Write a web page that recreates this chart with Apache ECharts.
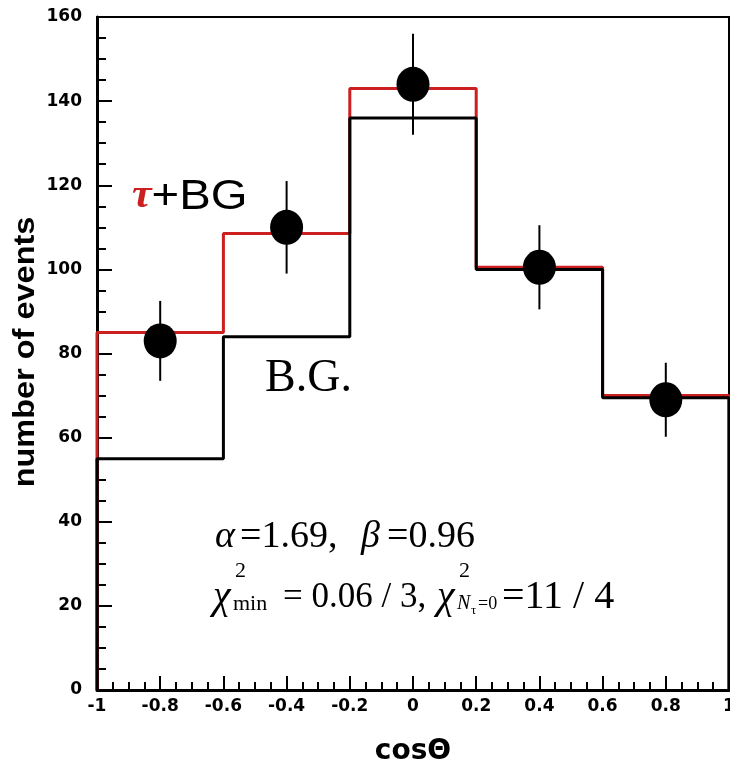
<!DOCTYPE html>
<html>
<head>
<meta charset="utf-8">
<script src="https://cdn.jsdelivr.net/npm/echarts@6/dist/echarts.min.js"></script>
<style>html,body{margin:0;padding:0;background:#fff;}#c{width:730px;height:767px;}</style>
</head>
<body>
<div id="c"></div>
<script>
// ---- data ----
var binEdges = [-1, -0.6, -0.2, 0.2, 0.6, 1];
var sigPlusBg = [85, 108.5, 143, 100.5, 70];   // tau + BG (red)
var bgOnly = [55, 84, 136, 100, 69.5];         // B.G. (black)
var pointX = [-0.8, -0.4, 0, 0.4, 0.8];
var pointY = [83, 110, 144, 100.5, 69];
var pointErr = [9.5, 11, 12, 10, 8.8];
var xTickLabels = ['-1', '-0.8', '-0.6', '-0.4', '-0.2', '0', '0.2', '0.4', '0.6', '0.8', '1'];
var yTickLabels = ['0', '20', '40', '60', '80', '100', '120', '140', '160'];

function histPath(edges, vals) {
  var d = [[edges[0], 0]];
  for (var i = 0; i < vals.length; i++) {
    d.push([edges[i], vals[i]]);
    d.push([edges[i + 1], vals[i]]);
  }
  d.push([edges[edges.length - 1], 0]);
  return d;
}
var points = pointX.map(function (x, i) { return [x, pointY[i], pointErr[i]]; });

var RED = '#cc1f1f';
var tickFont = { fontFamily: 'DejaVu Sans', fontWeight: 'bold', fontSize: 17, color: '#000' };
var serif = 'Liberation Serif';

var chart = echarts.init(document.getElementById('c'), null, { renderer: 'canvas' });
chart.setOption({
  animation: false,
  backgroundColor: '#fff',
  grid: { left: 97, right: 1, top: 17, bottom: 77, show: true, borderColor: '#000', borderWidth: 2, containLabel: false, outerBoundsMode: 'none' },
  xAxis: {
    type: 'value', min: -1, max: 1, interval: 0.2,
    axisLine: { show: true, onZero: false, lineStyle: { color: '#000', width: 3 } },
    axisTick: { show: true, inside: true, length: 14, lineStyle: { color: '#000', width: 2 } },
    minorTick: { show: true, splitNumber: 4, length: 8, lineStyle: { color: '#000', width: 2 } },
    splitLine: { show: false },
    axisLabel: Object.assign({ margin: 8, showMinLabel: true, showMaxLabel: true,
      formatter: function (v) { var i = Math.round((v + 1) / 0.2); return xTickLabels[i]; } }, tickFont),
    name: 'cosΘ', nameLocation: 'middle', nameGap: 48,
    nameTextStyle: { fontFamily: 'DejaVu Sans', fontWeight: 'bold', fontSize: 28, color: '#000' }
  },
  yAxis: {
    type: 'value', min: 0, max: 160, interval: 20,
    axisLine: { show: true, onZero: false, lineStyle: { color: '#000', width: 3 } },
    axisTick: { show: true, inside: true, length: 15, lineStyle: { color: '#000', width: 2 } },
    minorTick: { show: true, splitNumber: 4, length: 9, lineStyle: { color: '#000', width: 2 } },
    splitLine: { show: false },
    axisLabel: Object.assign({ margin: 15,
      formatter: function (v) { return yTickLabels[Math.round(v / 20)]; } }, tickFont)
  },
  series: [
    { type: 'line', data: histPath(binEdges, sigPlusBg), symbol: 'none', z: 2,
      lineStyle: { color: RED, width: 3 }, clip: false },
    { type: 'line', data: histPath(binEdges, bgOnly), symbol: 'none', z: 3,
      lineStyle: { color: '#000', width: 3 }, clip: false },
    { type: 'custom', z: 4, data: points,
      renderItem: function (params, api) {
        var x = api.value(0), y = api.value(1), e = api.value(2);
        var p1 = api.coord([x, y - e]), p2 = api.coord([x, y + e]);
        return { type: 'line', shape: { x1: p1[0], y1: p1[1], x2: p2[0], y2: p2[1] },
          style: { stroke: '#000', lineWidth: 2 } };
      } },
    { type: 'scatter', z: 5, data: points.map(function (p) { return [p[0], p[1]]; }),
      symbol: 'circle', symbolSize: [33, 35], itemStyle: { color: '#000', opacity: 1 } }
  ],
  graphic: [
    { type: 'text', x: 26, y: 352, rotation: Math.PI / 2, scaleX: 1.12,
      style: { text: 'number of events', fontFamily: 'Liberation Sans', fontWeight: 'bold', fontSize: 29,
        fill: '#000', align: 'center', verticalAlign: 'middle' } },
    { type: 'text', x: 132, y: 197, scaleX: 1.1,
      style: { text: '{t|τ}{b|+BG}', verticalAlign: 'middle', align: 'left',
        rich: { t: { fontFamily: serif, fontStyle: 'italic', fontWeight: 'bold', fontSize: 40, fill: RED },
                b: { fontFamily: 'Liberation Sans', fontSize: 43, fill: '#000' } } } },
    { type: 'text', x: 265, y: 379,
      style: { text: 'B.G.', fontFamily: serif, fontSize: 46, fill: '#000', align: 'left', verticalAlign: 'middle' } },
    // line 1
    { type: 'text', x: 215, y: 537, style: { text: 'α', fontFamily: serif, fontStyle: 'italic', fontSize: 38, fill: '#000', verticalAlign: 'middle' } },
    { type: 'text', x: 240, y: 537, style: { text: '=1.69,', fontFamily: serif, fontSize: 38, fill: '#000', verticalAlign: 'middle' } },
    { type: 'text', x: 361, y: 537, style: { text: 'β', fontFamily: serif, fontStyle: 'italic', fontSize: 38, fill: '#000', verticalAlign: 'middle' } },
    { type: 'text', x: 387, y: 537, style: { text: '=0.96', fontFamily: serif, fontSize: 38, fill: '#000', verticalAlign: 'middle' } },
    // line 2
    { type: 'text', x: 213, y: 597, style: { text: 'χ', fontFamily: serif, fontStyle: 'italic', fontSize: 40, fill: '#000', verticalAlign: 'middle' } },
    { type: 'text', x: 235, y: 571, style: { text: '2', fontFamily: serif, fontSize: 22, fill: '#000', verticalAlign: 'middle' } },
    { type: 'text', x: 233, y: 604, style: { text: 'min', fontFamily: serif, fontSize: 22, fill: '#000', verticalAlign: 'middle' } },
    { type: 'text', x: 283, y: 598, style: { text: '= 0.06 / 3,', fontFamily: serif, fontSize: 35, fill: '#000', verticalAlign: 'middle' } },
    { type: 'text', x: 437, y: 597, style: { text: 'χ', fontFamily: serif, fontStyle: 'italic', fontSize: 40, fill: '#000', verticalAlign: 'middle' } },
    { type: 'text', x: 459, y: 571, style: { text: '2', fontFamily: serif, fontSize: 22, fill: '#000', verticalAlign: 'middle' } },
    { type: 'text', x: 457, y: 604, style: { text: 'N', fontFamily: serif, fontStyle: 'italic', fontSize: 20, fill: '#000', verticalAlign: 'middle' } },
    { type: 'text', x: 471, y: 611, style: { text: 'τ', fontFamily: serif, fontSize: 13, fill: '#000', verticalAlign: 'middle' } },
    { type: 'text', x: 478, y: 604, style: { text: '=0', fontFamily: serif, fontSize: 18, fill: '#000', verticalAlign: 'middle' } },
    { type: 'text', x: 502, y: 597, style: { text: '=11 / 4', fontFamily: serif, fontSize: 40, fill: '#000', verticalAlign: 'middle' } }
  ]
});
</script>
</body>
</html>
